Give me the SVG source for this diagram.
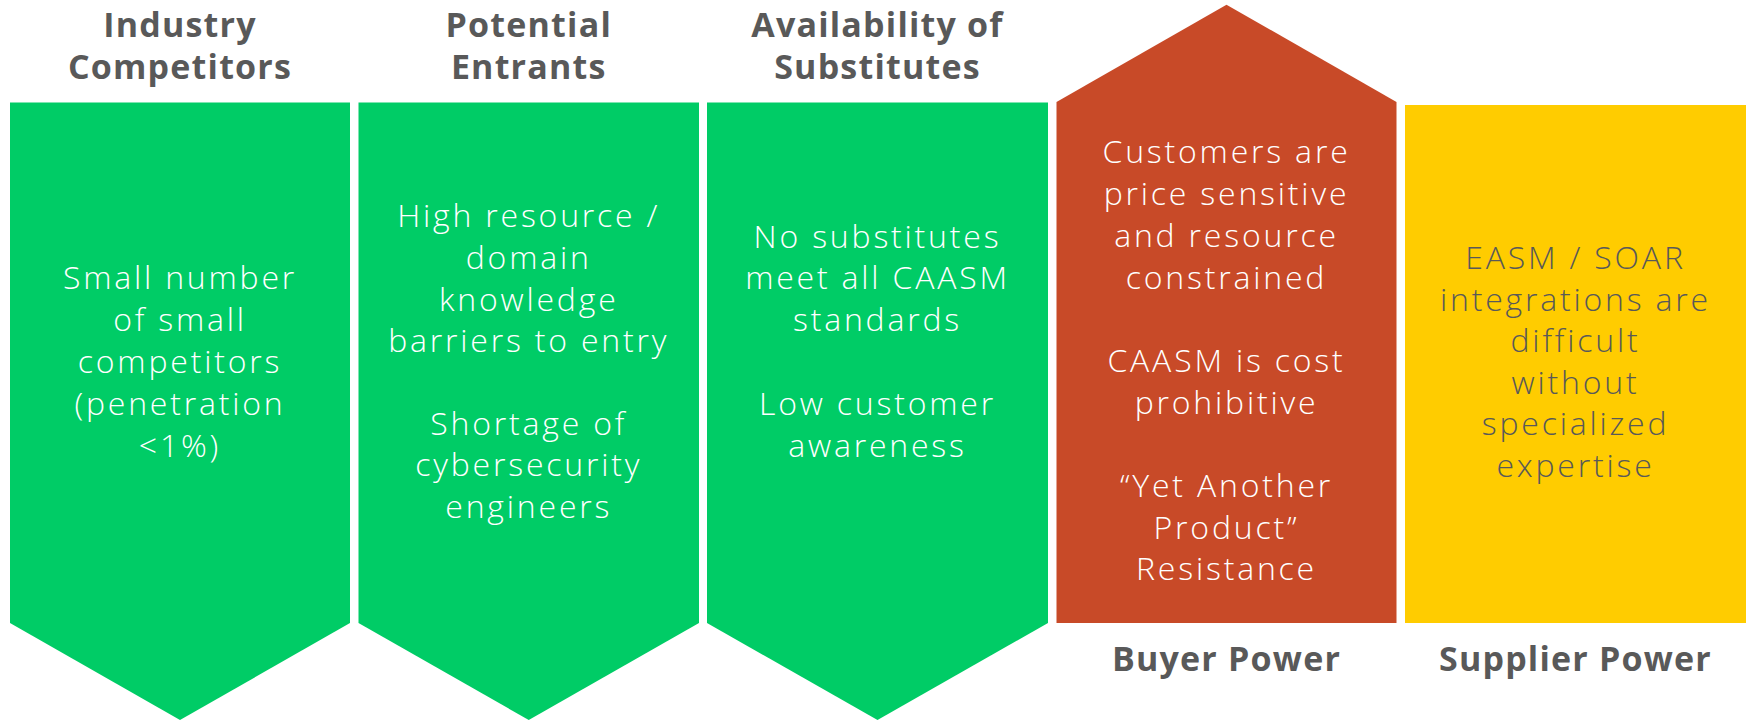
<svg xmlns="http://www.w3.org/2000/svg" width="1754" height="720" viewBox="0 0 1754 720">
<style>
.title{font-family:"Open Sans","Liberation Sans",sans-serif;font-weight:700;font-size:34px;letter-spacing:1.2px;fill:#595959;text-anchor:middle}
.body{font-family:"Open Sans","Liberation Sans",sans-serif;font-weight:300;font-size:32px;letter-spacing:2.8px;fill:#ffffff;text-anchor:middle}
.dark{fill:#595959}
.green{fill:#00cc66}
.red{fill:#c84a28}
.yellow{fill:#ffcc00}
</style>
<rect width="1754" height="720" fill="#ffffff"/>
<g id="industry-competitors">
<text class="title" x="180" y="37">Industry</text>
<text class="title" x="180" y="79">Competitors</text>
<polygon class="green" points="10,102.5 350,102.5 350,623 180,720 10,623"/>
<text class="body" x="180" y="289">Small number</text>
<text class="body" x="180" y="331">of small</text>
<text class="body" x="180" y="373">competitors</text>
<text class="body" x="180" y="415">(penetration</text>
<text class="body" x="180" y="457">&lt;1%)</text>
</g>
<g id="potential-entrants">
<text class="title" x="528.75" y="37">Potential</text>
<text class="title" x="528.75" y="79">Entrants</text>
<polygon class="green" points="358.5,102.5 699,102.5 699,623 528.75,720 358.5,623"/>
<text class="body" x="528.75" y="227">High resource /</text>
<text class="body" x="528.75" y="269">domain</text>
<text class="body" x="528.75" y="311">knowledge</text>
<text class="body" x="528.75" y="352">barriers to entry</text>
<text class="body" x="528.75" y="435">Shortage of</text>
<text class="body" x="528.75" y="476">cybersecurity</text>
<text class="body" x="528.75" y="518">engineers</text>
</g>
<g id="availability-of-substitutes">
<text class="title" x="877.5" y="37">Availability of</text>
<text class="title" x="877.5" y="79">Substitutes</text>
<polygon class="green" points="707,102.5 1048,102.5 1048,623 877.5,720 707,623"/>
<text class="body" x="877.5" y="248">No substitutes</text>
<text class="body" x="877.5" y="289">meet all CAASM</text>
<text class="body" x="877.5" y="331">standards</text>
<text class="body" x="877.5" y="415">Low customer</text>
<text class="body" x="877.5" y="457">awareness</text>
</g>
<g id="buyer-power">
<polygon class="red" points="1056.5,623 1396.5,623 1396.5,102 1226.5,4.7 1056.5,102"/>
<text class="body" x="1226.5" y="163">Customers are</text>
<text class="body" x="1226.5" y="205">price sensitive</text>
<text class="body" x="1226.5" y="247">and resource</text>
<text class="body" x="1226.5" y="289">constrained</text>
<text class="body" x="1226.5" y="372">CAASM is cost</text>
<text class="body" x="1226.5" y="414">prohibitive</text>
<text class="body" x="1226.5" y="497">“Yet Another</text>
<text class="body" x="1226.5" y="539">Product”</text>
<text class="body" x="1226.5" y="580">Resistance</text>
<text class="title" x="1226.5" y="671">Buyer Power</text>
</g>
<g id="supplier-power">
<rect class="yellow" x="1405" y="105" width="341" height="518"/>
<text class="body dark" x="1575.5" y="269">EASM / SOAR</text>
<text class="body dark" x="1575.5" y="310.5">integrations are</text>
<text class="body dark" x="1575.5" y="352">difficult</text>
<text class="body dark" x="1575.5" y="393.5">without</text>
<text class="body dark" x="1575.5" y="435">specialized</text>
<text class="body dark" x="1575.5" y="476.5">expertise</text>
<text class="title" x="1575.5" y="671">Supplier Power</text>
</g>
<g id="connectors"></g>
</svg>
